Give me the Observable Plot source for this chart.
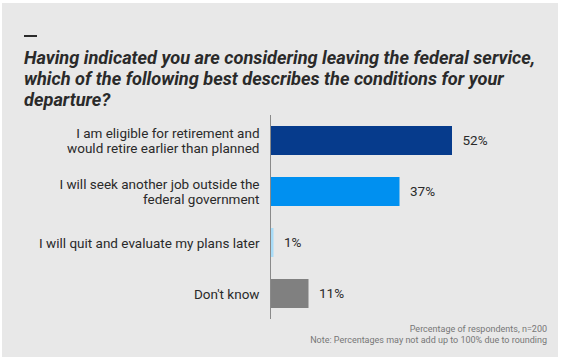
<!DOCTYPE html>
<html>
<head>
<meta charset="utf-8">
<script src="https://cdn.jsdelivr.net/npm/d3@7"></script>
<script src="https://cdn.jsdelivr.net/npm/@observablehq/plot@0.6"></script>
<style>
  html, body { margin: 0; padding: 0; background: #ffffff; }
  body { width: 564px; height: 362px; position: relative; overflow: hidden; font-family: Roboto, "Noto Sans", sans-serif; }
  #panel { position: absolute; left: 2px; top: 3px; width: 556px; height: 354px; background: #e8e8e8; }
  #dash { position: absolute; left: 22px; top: 32px; width: 13px; height: 2px; background: #2a2a2a; }
  #title { position: absolute; left: 22px; top: 44px; white-space: nowrap; font-size: 18.2px; font-weight: 700; font-style: italic; line-height: 21px; color: #2a2a2a; margin: 0; }
  #chart { position: absolute; left: 0; top: 107px; }
  #note { position: absolute; right: 11px; top: 321px; text-align: right; font-size: 9px; line-height: 11px; color: #777; }
</style>
</head>
<body>
<div id="panel">
  <div id="dash"></div>
  <h1 id="title">Having indicated you are considering leaving the federal service,<br>which of the following best describes the conditions for your<br>departure?</h1>
  <div id="chart"></div>
  <div id="note">Percentage of respondents, n=200<br>Note: Percentages may not add up to 100% due to rounding</div>
</div>
<script>
const categories = [
  "I am eligible for retirement and\nwould retire earlier than planned",
  "I will seek another job outside the\nfederal government",
  "I will quit and evaluate my plans later",
  "Don't know"
];
const values = [52, 37, 1, 11];
const colors = ["#063b8c", "#0090f0", "#a8dcf8", "#808080"];

const data = categories.map((c, i) => ({category: c, value: values[i], color: colors[i]}));

const chart = Plot.plot({
  width: 556,
  height: 215,
  marginTop: 5,
  marginBottom: 6,
  marginLeft: 268,
  marginRight: 20,
  style: {background: "transparent", fontFamily: "Roboto, sans-serif"},
  x: {domain: [0, 52], range: [268, 450], axis: null},
  y: {domain: categories, paddingInner: 0.43, paddingOuter: 0.215, axis: null},
  marks: [
    Plot.barX(data, {x: "value", y: "category", fill: "color"}),
    Plot.ruleX([0], {stroke: "#8a8a8a", strokeWidth: 1}),
    Plot.text(data, {x: 0, y: "category", text: "category", textAnchor: "end", dx: -11, fontSize: 13.5, lineHeight: 1.12, fill: "#2a2a2a"}),
    Plot.text(data, {x: "value", y: "category", text: d => d.value + "%", textAnchor: "start", dx: 10, fontSize: 13.5, fill: "#2a2a2a"})
  ]
});
document.getElementById("chart").appendChild(chart);
</script>
</body>
</html>
